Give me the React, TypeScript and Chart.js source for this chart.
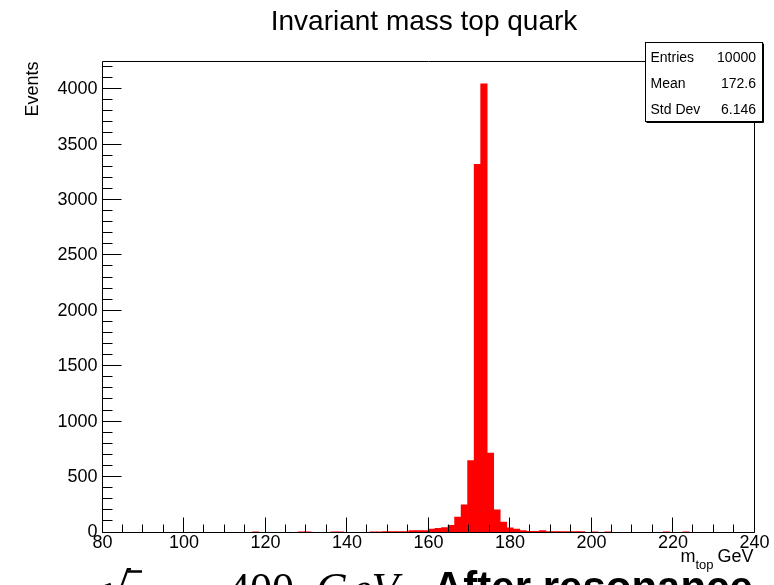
import React, { useEffect, useRef } from "react";
import { Chart, registerables } from "chart.js";

Chart.register(...registerables);

// Histogram binning: 100 bins from 80 to 240 GeV
const binLow = 80;
const binWidth = 1.6;

// Bin contents (events per bin), left to right
const counts: number[] = [
  0, 0, 0, 0, 0, 0, 0, 0, 0, 0,
  0, 0, 0, 0, 0, 0, 0, 0, 0, 0,
  0, 0, 0, 6, 0, 0, 0, 0, 0, 0,
  6, 6, 0, 0, 0, 6, 6, 0, 0, 0,
  0, 7, 7, 8, 8, 8, 8, 17, 17, 18,
  30, 38, 44, 65, 138, 250, 648, 3322, 4047, 716,
  205, 93, 42, 30, 18, 10, 10, 17, 9, 9,
  9, 9, 9, 9, 0, 6, 0, 6, 0, 0,
  0, 0, 0, 0, 0, 0, 6, 0, 0, 6,
  0, 0, 0, 0, 0, 0, 0, 0, 0, 0,
];

const xMin = 80;
const xMax = 240;
const xTickValues = [80, 100, 120, 140, 160, 180, 200, 220, 240];
const yTickValues = [0, 500, 1000, 1500, 2000, 2500, 3000, 3500, 4000];
const yMajor = 500;
const yMinor = 100;
const xMajor = 20;
const xMinor = 5;

const titleText = "Invariant mass top quark";
const yTitle = "Events";
const xTitleMain = "m";
const xTitleSub = "top";
const xTitleUnit = "GeV";

const statsLabels = ["Entries", "Mean", "Std Dev"];
const statsValues = ["10000", "172.6", "6.146"];

const captionEnergy = "400";
const captionUnitG = "G";
const captionUnitRest = "eV";
const captionTag = "After resonance";

const SANS = "'Liberation Sans', Arial, Helvetica, sans-serif";
const SERIF = "'Liberation Serif', 'DejaVu Serif', serif";

const rootStyle = {
  id: "rootStyle",
  afterDatasetsDraw(chart: any) {
    const { ctx, chartArea } = chart;
    const xs = chart.scales.x;
    const ys = chart.scales.y;
    const L = Math.round(chartArea.left) - 0.5;
    const R = Math.round(chartArea.right) - 0.5;
    const T = Math.round(chartArea.top) - 0.5;
    const B = Math.round(chartArea.bottom) - 0.5;
    ctx.save();
    ctx.strokeStyle = "#000";
    ctx.lineWidth = 1;
    // frame
    ctx.beginPath();
    ctx.rect(L, T, R - L, B - T);
    ctx.stroke();
    // y ticks drawn inside the frame
    ctx.beginPath();
    for (let v = 0; v <= ys.max; v += yMinor) {
      const y = Math.round(ys.getPixelForValue(v)) - 0.5;
      const len = v % yMajor === 0 ? 19 : 10;
      ctx.moveTo(L, y);
      ctx.lineTo(L + len, y);
    }
    // x ticks drawn inside the frame
    for (let v = xMin; v <= xMax; v += xMinor) {
      const x = Math.round(xs.getPixelForValue(v)) - 0.5;
      const len = (v - xMin) % xMajor === 0 ? 15 : 8;
      ctx.moveTo(x, B);
      ctx.lineTo(x, B - len);
    }
    ctx.stroke();
    ctx.restore();
  },
  afterDraw(chart: any) {
    const { ctx } = chart;
    ctx.save();
    ctx.fillStyle = "#000";

    // title
    ctx.font = `28px ${SANS}`;
    ctx.textAlign = "center";
    ctx.textBaseline = "alphabetic";
    ctx.fillText(titleText, 424, 30);

    // y axis title
    ctx.save();
    ctx.translate(38, 61.5);
    ctx.rotate(-Math.PI / 2);
    ctx.font = `18px ${SANS}`;
    ctx.textAlign = "right";
    ctx.fillText(yTitle, 0, 0);
    ctx.restore();

    // x axis title: m_top GeV (right aligned)
    ctx.textAlign = "left";
    ctx.font = `18px ${SANS}`;
    const unitW = ctx.measureText(xTitleUnit).width;
    const unitX = 753.5 - unitW;
    ctx.fillText(xTitleUnit, unitX, 562);
    ctx.font = `13px ${SANS}`;
    const subW = ctx.measureText(xTitleSub).width;
    const subX = unitX - 4 - subW;
    ctx.fillText(xTitleSub, subX, 568.5);
    ctx.font = `18px ${SANS}`;
    const mW = ctx.measureText(xTitleMain).width;
    ctx.fillText(xTitleMain, subX - mW, 562);

    // statistics box
    const bx = 645.5, by = 42.5, bw = 117, bh = 79;
    ctx.fillStyle = "#fff";
    ctx.fillRect(bx, by, bw, bh);
    ctx.strokeStyle = "#000";
    ctx.lineWidth = 1;
    ctx.strokeRect(bx, by, bw, bh);
    ctx.beginPath();
    ctx.moveTo(bx + bw + 1, by + 1);
    ctx.lineTo(bx + bw + 1, by + bh + 1);
    ctx.lineTo(bx + 1, by + bh + 1);
    ctx.stroke();
    ctx.fillStyle = "#000";
    ctx.font = `14px ${SANS}`;
    ctx.textBaseline = "middle";
    const rows = [58.5, 84, 110.5];
    statsLabels.forEach((lab, i) => {
      ctx.textAlign = "left";
      ctx.fillText(lab, 650.5, rows[i]);
      ctx.textAlign = "right";
      ctx.fillText(statsValues[i], 756, rows[i]);
    });

    // caption line below the plot
    ctx.textBaseline = "alphabetic";
    ctx.textAlign = "left";
    ctx.font = `44px 'DejaVu Sans', sans-serif`;
    ctx.fillText("\u221A", 103, 604);
    ctx.beginPath();
    ctx.lineWidth = 2.5;
    ctx.moveTo(128, 571.5);
    ctx.lineTo(142, 571.5);
    ctx.stroke();
    ctx.font = `italic 44px ${SERIF}`;
    ctx.fillText("s", 126, 614);
    ctx.font = `44px ${SERIF}`;
    ctx.fillText("=", 172, 616);
    ctx.fillText(captionEnergy, 228, 603);
    ctx.font = `italic 44px ${SERIF}`;
    ctx.fillText(captionUnitG, 316, 603);
    ctx.fillText(captionUnitRest, 352, 603);
    ctx.font = `bold 42px ${SANS}`;
    ctx.fillText(captionTag, 433, 601);
    ctx.restore();
  },
};

export default function App() {
  const canvasRef = useRef<HTMLCanvasElement | null>(null);

  useEffect(() => {
    const canvas = canvasRef.current;
    if (!canvas) return;
    const points = counts.map((c, i) => ({ x: binLow + binWidth * (i + 0.5), y: c }));
    const yMax = Math.max(...counts) * 1.05;

    const chart = new Chart(canvas, {
      type: "bar",
      data: {
        datasets: [
          {
            data: points as any,
            backgroundColor: "#ff0000",
            borderWidth: 0,
            barPercentage: 1,
            categoryPercentage: 1,
          },
        ],
      },
      options: {
        animation: false,
        responsive: false,
        devicePixelRatio: 1,
        layout: { padding: { top: 61.5, right: 19.5, left: 0, bottom: 0 }, autoPadding: false } as any,
        plugins: {
          legend: { display: false },
          tooltip: { enabled: false },
          title: { display: false },
        },
        scales: {
          x: {
            type: "linear",
            min: xMin,
            max: xMax,
            offset: false,
            grid: { display: false, drawTicks: false, offset: false } as any,
            border: { display: false },
            afterBuildTicks: (s: any) => {
              s.ticks = xTickValues.map((v) => ({ value: v }));
            },
            ticks: {
              padding: 0,
              maxRotation: 0,
              autoSkip: false,
              color: "#000",
              font: { family: SANS, size: 18 },
              callback: (v: any) => String(v),
            },
            afterFit: (s: any) => {
              s.height = 52.5;
            },
          },
          y: {
            type: "linear",
            min: 0,
            max: yMax,
            grid: { display: false, drawTicks: false },
            border: { display: false },
            afterBuildTicks: (s: any) => {
              s.ticks = yTickValues.map((v) => ({ value: v }));
            },
            ticks: {
              padding: 5,
              autoSkip: false,
              color: "#000",
              font: { family: SANS, size: 18 },
              callback: (v: any) => String(v),
            },
            afterFit: (s: any) => {
              s.width = 102.5;
            },
          },
        },
      },
      plugins: [rootStyle],
    });
    return () => chart.destroy();
  }, []);

  return (
    <div style={{ position: "fixed", left: 0, top: 0, width: 774, height: 585, background: "#fff", overflow: "hidden" }}>
      <canvas ref={canvasRef} width={774} height={585} style={{ display: "block" }} />
    </div>
  );
}
